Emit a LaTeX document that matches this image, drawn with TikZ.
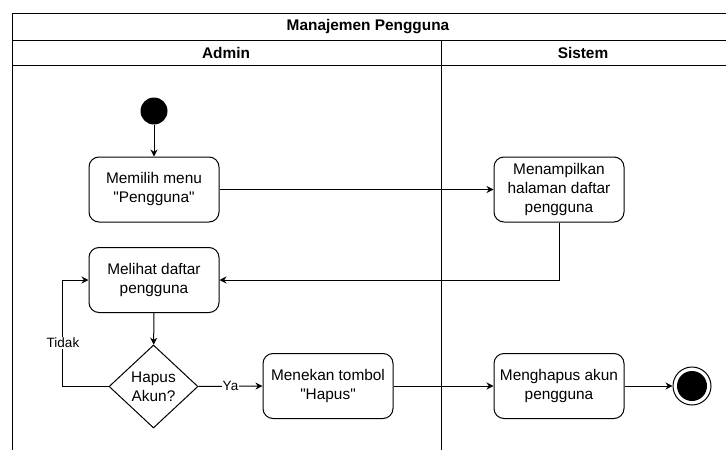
\documentclass[tikz,border=0pt]{standalone}
\usepackage{fontspec}
\setmainfont{Liberation Sans}[Ligatures=TeXOff]
\usetikzlibrary{arrows.meta,shapes.geometric}
\definecolor{flowfg}{HTML}{000000}

\begin{document}
\begin{tikzpicture}[color=flowfg, draw=flowfg, line width=1pt, x=1pt, y=-1pt,
  >={Stealth[length=7pt,width=7pt]}, font=\fontsize{15.4}{19}\selectfont,
  act/.style={draw, rounded corners=10pt, minimum width=130pt, minimum height=65pt, align=center, inner sep=2pt},
  decide/.style={draw, diamond, aspect=1.07, minimum width=89pt, minimum height=83pt, inner sep=0pt, align=center},
  startdot/.style={circle, fill, minimum size=27pt, inner sep=0pt},
  enddot/.style={circle, draw, minimum size=38pt, inner sep=0pt},
  lanehead/.style={font=\fontsize{15.4}{19}\selectfont\bfseries},
  lbl/.style={fill=white, inner sep=1pt, font=\fontsize{13.5}{16}\selectfont}]
  \useasboundingbox (0,0) rectangle (726,450);

  % swimlanes
  \draw (12,450) -- (12,13) -- (726,13);
  \draw (12,40) -- (726,40);
  \draw (12,65) -- (726,65);
  \draw (441,40) -- (441,450);
  \node[lanehead] (judul) at (368,26.5) {Manajemen Pengguna};
  \node[lanehead] (admin) at (226,52.5) {Admin};
  \node[lanehead] (sistem) at (583,52.5) {Sistem};

  % aktivitas
  \node[startdot] (mulai) at (154,111) {};
  \node[act] (pilih) at (154,189.5) {Memilih menu\\"Pengguna"};
  \node[act] (tampil) at (559,189.5) {Menampilkan\\halaman daftar\\pengguna};
  \node[act] (lihat) at (154,280) {Melihat daftar\\pengguna};
  \node[decide] (hapus) at (153.5,386.5) {Hapus\\Akun?};
  \node[act] (tekan) at (328,386) {Menekan tombol\\"Hapus"};
  \node[act] (proses) at (559,386) {Menghapus akun\\pengguna};
  \node[enddot] (selesai) at (692,386) {};
  \fill (selesai) circle (15pt);

  % alur
  \draw[->] (mulai) -- (pilih);
  \draw[->] (pilih) -- (tampil);
  \draw[->] (tampil.south) |- (lihat.east);
  \draw[->] (lihat) -- (hapus);
  \draw[->] (hapus.west) -- ++(-46,0) |- (lihat.west);
  \node[lbl] (tidak) at (63,343) {Tidak};
  \draw[->] (hapus.east) -- node[lbl] (ya) {Ya} (tekan.west);
  \draw[->] (tekan) -- (proses);
  \draw[->] (proses) -- (selesai);
\end{tikzpicture}
\end{document}
